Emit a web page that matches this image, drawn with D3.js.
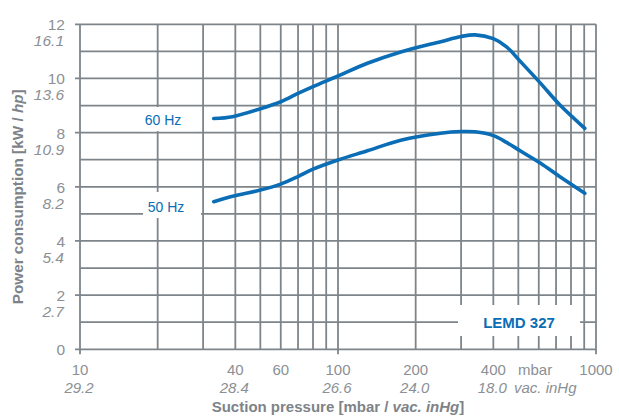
<!DOCTYPE html>
<html>
<head>
<meta charset="utf-8">
<script src="https://cdn.jsdelivr.net/npm/d3@7"></script>
<style>
  body { margin: 0; background: #fff; }
  text { font-family: "Liberation Sans", Arial, sans-serif; }
</style>
</head>
<body>
<div id="chart"></div>
<script>
// suction pressure in mbar, power in kW
const pressure = [33, 39, 50, 60, 70, 80, 100, 130, 175, 250, 300, 340, 400, 450, 510, 610, 725, 905];
const power60 = [8.52, 8.59, 8.88, 9.14, 9.45, 9.70, 10.09, 10.56, 10.98, 11.36, 11.55, 11.61, 11.47, 11.17, 10.62, 9.82, 9.02, 8.16];
const power50 = [5.45, 5.65, 5.88, 6.10, 6.38, 6.65, 6.99, 7.33, 7.72, 7.98, 8.04, 8.03, 7.89, 7.64, 7.32, 6.87, 6.37, 5.76];

const yTicks = [0, 2, 4, 6, 8, 10, 12];
const hpLabels = ["", "2.7", "5.4", "8.2", "10.9", "13.6", "16.1"];
const xTicks = [10, 40, 60, 100, 200, 400, 1000];
const inHgLabels = { 10: "29.2", 40: "28.4", 100: "26.6", 200: "24.0", 400: "18.0" };

const width = 619, height = 416,
      margin = ({ top: 24.3, right: 23, bottom: 66.7, left: 80 });

const gridColor = "#7e858a",
      labelColor = "#8b9095",
      titleColor = "#7d8388",
      blue = "#0a6db5";

let svg = d3.select("#chart")
    .append("svg")
    .attr("width", width)
    .attr("height", height);

let x = d3.scaleLog()
    .domain([10, 1000])
    .range([margin.left, width - margin.right]);

let y = d3.scaleLinear()
    .domain([0, 12])
    .range([height - margin.bottom, margin.top]);

// grid: every 1 kW, every mbar step of the log scale
let grid = svg.append("g")
    .attr("stroke", gridColor)
    .attr("stroke-width", 1.8);

grid.selectAll(".h")
    .data(d3.range(0, 13))
    .join("line")
    .attr("x1", d => d % 2 === 0 ? x(10) - 5 : x(10))
    .attr("x2", x(1000))
    .attr("y1", d => y(d))
    .attr("y2", d => y(d));

grid.selectAll(".v")
    .data(x.ticks())
    .join("line")
    .attr("x1", d => x(d))
    .attr("x2", d => x(d))
    .attr("y1", y(12))
    .attr("y2", d => [10, 100, 1000].includes(d) ? y(0) + 5 : y(0));

// white patches behind the labels
const patches = [
    { x0: 139, x1: 197, y0: y(9) + 1.5, y1: y(8) - 1.5 },
    { x0: 143, x1: 201, y0: 192, y1: 218 },
    { x0: 458, x1: 580, y0: 305, y1: 336 }
];
svg.selectAll(".patch")
    .data(patches)
    .join("rect")
    .attr("x", d => d.x0)
    .attr("y", d => d.y0)
    .attr("width", d => d.x1 - d.x0)
    .attr("height", d => d.y1 - d.y0)
    .attr("fill", "white");

// y tick labels (kW and hp)
let yl = svg.append("g").attr("fill", labelColor).attr("font-size", 15.5).attr("text-anchor", "end");
yl.selectAll(".kw")
    .data(yTicks)
    .join("text")
    .attr("x", 65)
    .attr("y", d => y(d) + 6)
    .text(d => d);
yl.selectAll(".hp")
    .data(yTicks)
    .join("text")
    .attr("x", 64)
    .attr("y", d => y(d) + 22)
    .attr("font-style", "italic")
    .text((d, i) => hpLabels[i]);

// x tick labels (mbar and vac. inHg)
let xl = svg.append("g").attr("fill", labelColor).attr("font-size", 15).attr("text-anchor", "middle");
xl.selectAll(".mbar")
    .data(xTicks)
    .join("text")
    .attr("x", d => x(d))
    .attr("y", 375)
    .text(d => d);
xl.selectAll(".inhg")
    .data(xTicks.filter(d => inHgLabels[d]))
    .join("text")
    .attr("x", d => x(d) - 1)
    .attr("y", 393)
    .attr("font-style", "italic")
    .text(d => inHgLabels[d]);
xl.append("text").attr("x", 518).attr("y", 375).attr("text-anchor", "start").text("mbar");
xl.append("text").attr("x", 514).attr("y", 393).attr("text-anchor", "start")
    .attr("font-style", "italic").text("vac. inHg");

// axis titles
let yTitle = svg.append("text")
    .attr("transform", `translate(23,${(y(0) + y(12)) / 2 + 10}) rotate(-90)`)
    .attr("text-anchor", "middle")
    .attr("font-size", 15.3)
    .attr("font-weight", "bold")
    .attr("fill", titleColor);
yTitle.append("tspan").text("Power consumption [kW / ");
yTitle.append("tspan").attr("font-style", "italic").text("hp");
yTitle.append("tspan").text("]");

let xTitle = svg.append("text")
    .attr("x", 338)
    .attr("y", 412)
    .attr("text-anchor", "middle")
    .attr("font-size", 15)
    .attr("font-weight", "bold")
    .attr("fill", titleColor);
xTitle.append("tspan").text("Suction pressure [mbar / ");
xTitle.append("tspan").attr("font-style", "italic").text("vac. inHg");
xTitle.append("tspan").text("]");

// curves
let line = d3.line()
    .x(d => x(d[0]))
    .y(d => y(d[1]))
    .curve(d3.curveCatmullRom.alpha(0.5));

svg.selectAll(".curve")
    .data([power60, power50])
    .join("path")
    .attr("d", s => line(pressure.map((p, i) => [p, s[i]])))
    .attr("fill", "none")
    .attr("stroke", blue)
    .attr("stroke-width", 3.6)
    .attr("stroke-linecap", "round");

// series labels
svg.append("text").attr("x", 163).attr("y", 125).attr("text-anchor", "middle")
    .attr("font-size", 14).attr("fill", blue).text("60 Hz");
svg.append("text").attr("x", 166).attr("y", 212).attr("text-anchor", "middle")
    .attr("font-size", 14).attr("fill", blue).text("50 Hz");
svg.append("text").attr("x", 519).attr("y", 328).attr("text-anchor", "middle")
    .attr("font-size", 15).attr("font-weight", "bold").attr("fill", blue).text("LEMD 327");
</script>
</body>
</html>
